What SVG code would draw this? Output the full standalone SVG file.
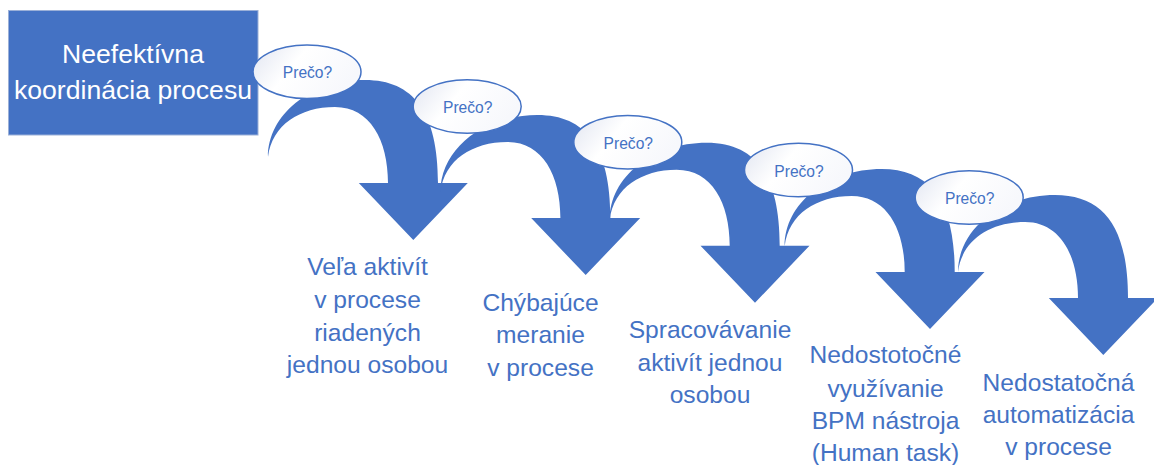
<svg xmlns="http://www.w3.org/2000/svg" xmlns:xlink="http://www.w3.org/1999/xlink" width="1154" height="465" viewBox="0 0 1154 465">
  <style>
    .arrow { fill: #4472C4; }
    .why { fill: url(#whyFill); stroke: #4472C4; stroke-width: 1.5; }
    .why-text { font-family: "Liberation Sans", Arial, sans-serif; font-size: 15.6px; fill: #4472C4; text-anchor: middle; }
    .cause { font-family: "Liberation Sans", Arial, sans-serif; font-size: 24.6px; fill: #4472C4; text-anchor: middle; }
    .root-box { fill: #4472C4; stroke: #9BB0D8; stroke-width: 1; }
    .root-text { font-family: "Liberation Sans", Arial, sans-serif; font-size: 26.6px; fill: #FFFFFF; text-anchor: middle; }
  </style>
  <defs>
    <linearGradient id="whyFill" x1="0" y1="0" x2="1" y2="0.4">
      <stop offset="0" stop-color="#E1E5F1"/>
      <stop offset="0.45" stop-color="#FFFFFF"/>
      <stop offset="1" stop-color="#F7F8FC"/>
    </linearGradient>
    <!-- curved down arrow, origin at the arrow tip -->
    <path id="curvedDown" d="M-145.3,-83 C-145.3,-125 -103.3,-160 -48.3,-160 C0,-160 24.7,-128 24.7,-57 L54.5,-57 L0,0 L-54.5,-57 L-25.3,-57 C-25.3,-100 -43.3,-133 -78.3,-133 C-113.3,-133 -141.3,-115 -145.3,-83 Z"/>
  </defs>

  <rect width="1154" height="465" fill="#FFFFFF"/>

  <!-- connectors: chain of curved arrows -->
  <g id="connectors" class="arrow">
    <use xlink:href="#curvedDown" href="#curvedDown" transform="translate(413.3,240)"/>
    <use xlink:href="#curvedDown" href="#curvedDown" transform="translate(585.7,275)"/>
    <use xlink:href="#curvedDown" href="#curvedDown" transform="translate(755,302.7)"/>
    <use xlink:href="#curvedDown" href="#curvedDown" transform="translate(930,329)"/>
    <use xlink:href="#curvedDown" href="#curvedDown" transform="translate(1103.3,355)"/>
  </g>

  <!-- root problem -->
  <g id="root">
    <rect class="root-box" x="8.5" y="10.5" width="249.5" height="124.5"/>
    <text class="root-text" x="133" y="63.3">Neefektívna</text>
    <text class="root-text" x="133" y="99">koordinácia procesu</text>
  </g>

  <!-- "why" bubbles -->
  <g id="why1">
    <ellipse class="why" cx="307" cy="71.8" rx="54" ry="26.8"/>
    <text class="why-text" x="307.5" y="78.3">Prečo?</text>
  </g>
  <g id="why2">
    <ellipse class="why" cx="467.2" cy="106.5" rx="54" ry="26.8"/>
    <text class="why-text" x="467.7" y="113">Prečo?</text>
  </g>
  <g id="why3">
    <ellipse class="why" cx="627.8" cy="142.2" rx="54" ry="26.8"/>
    <text class="why-text" x="628.3" y="148.7">Prečo?</text>
  </g>
  <g id="why4">
    <ellipse class="why" cx="798.5" cy="170" rx="54" ry="26.8"/>
    <text class="why-text" x="799" y="176.5">Prečo?</text>
  </g>
  <g id="why5">
    <ellipse class="why" cx="969.2" cy="197.5" rx="54" ry="26.8"/>
    <text class="why-text" x="969.7" y="204">Prečo?</text>
  </g>

  <!-- causes -->
  <g id="cause1">
    <text class="cause" x="367.5" y="275">Veľa aktivít</text>
    <text class="cause" x="367.5" y="308">v procese</text>
    <text class="cause" x="367.5" y="340.5">riadených</text>
    <text class="cause" x="367.5" y="372.8">jednou osobou</text>
  </g>
  <g id="cause2">
    <text class="cause" x="540.5" y="311">Chýbajúce</text>
    <text class="cause" x="540.5" y="343.4">meranie</text>
    <text class="cause" x="540.5" y="375.5">v procese</text>
  </g>
  <g id="cause3">
    <text class="cause" x="710" y="338.3">Spracovávanie</text>
    <text class="cause" x="710" y="370.5">aktivít jednou</text>
    <text class="cause" x="710" y="403.3">osobou</text>
  </g>
  <g id="cause4">
    <text class="cause" x="885.5" y="363.3">Nedostotočné</text>
    <text class="cause" x="885.5" y="396.5">využívanie</text>
    <text class="cause" x="885.5" y="429.3">BPM nástroja</text>
    <text class="cause" x="885.5" y="461">(Human task)</text>
  </g>
  <g id="cause5">
    <text class="cause" x="1058.5" y="390.7">Nedostatočná</text>
    <text class="cause" x="1058.5" y="423.2">automatizácia</text>
    <text class="cause" x="1058.5" y="455.3">v procese</text>
  </g>
</svg>
